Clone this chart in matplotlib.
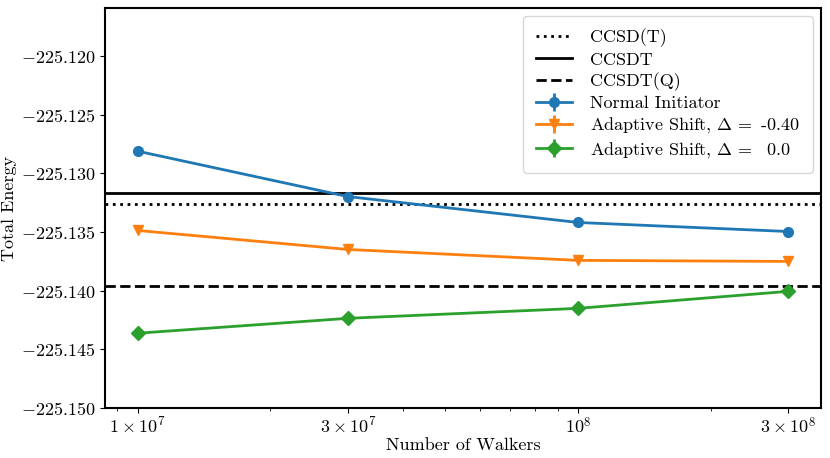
import numpy as np
from matplotlib import pyplot as plt

plt.rcParams['font.family'] = 'serif'
plt.rcParams['font.serif'] = ['cmr10']
plt.rcParams['mathtext.fontset'] = 'cm'
plt.rcParams['axes.formatter.use_mathtext'] = True
plt.rcParams['font.size'] = 13

walkers = [1e7, 3e7, 1e8, 3e8]
x_labels = [r'$1\times10^{7}$', r'$3\times10^{7}$', r'$10^{8}$', r'$3\times10^{8}$']

normal_init = [-225.12810, -225.13197, -225.13418, -225.13495]
normal_err = [0.00010, 0.00010, 0.00008, 0.00008]
shift_m040 = [-225.13486, -225.13648, -225.13741, -225.13750]
shift_m040_err = [0.00010, 0.00008, 0.00008, 0.00006]
shift_0 = [-225.14362, -225.14235, -225.14150, -225.14005]
shift_0_err = [0.00035, 0.00015, 0.00012, 0.00010]

ccsd_t = -225.13257
ccsdt = -225.13163
ccsdt_q = -225.13963

fig = plt.figure(figsize=(8.3, 4.58), dpi=100)
ax = fig.add_axes([0.1265, 0.109, 0.8625, 0.8735])

ax.axhline(ccsd_t, color='black', linestyle=':', lw=2, label='CCSD(T)')
ax.axhline(ccsdt, color='black', linestyle='-', lw=2, label='CCSDT')
ax.axhline(ccsdt_q, color='black', linestyle='--', lw=2, label='CCSDT(Q)')

ax.errorbar(walkers, normal_init, yerr=normal_err, marker='o', ms=7, lw=2,
            label='Normal Initiator')
ax.errorbar(walkers, shift_m040, yerr=shift_m040_err, marker='v', ms=7, lw=2,
            label=r'Adaptive Shift, $\Delta\,=$ -0.40')
ax.errorbar(walkers, shift_0, yerr=shift_0_err, marker='D', ms=7, lw=2,
            label=r'Adaptive Shift, $\Delta\,=$  0.0')

ax.set_xscale('log')
ax.set_xticks(walkers)
ax.set_xticklabels(x_labels)
ax.xaxis.set_minor_formatter(plt.NullFormatter())
ax.tick_params(axis='x', which='major', pad=2)
ax.set_ylim(-225.150, -225.1159)
ax.set_yticks(np.arange(-225.150, -225.1195, 0.005))
ax.ticklabel_format(axis='y', useOffset=False)
for s in ax.spines.values():
    s.set_linewidth(1.5)

ax.set_xlabel('Number of Walkers', labelpad=1)
ax.set_ylabel('Total Energy', labelpad=3)
ax.legend(loc='upper right', labelspacing=0.25, handlelength=2.0,
          handletextpad=1.0, borderpad=0.7, borderaxespad=0.45)

plt.savefig('out.png')
